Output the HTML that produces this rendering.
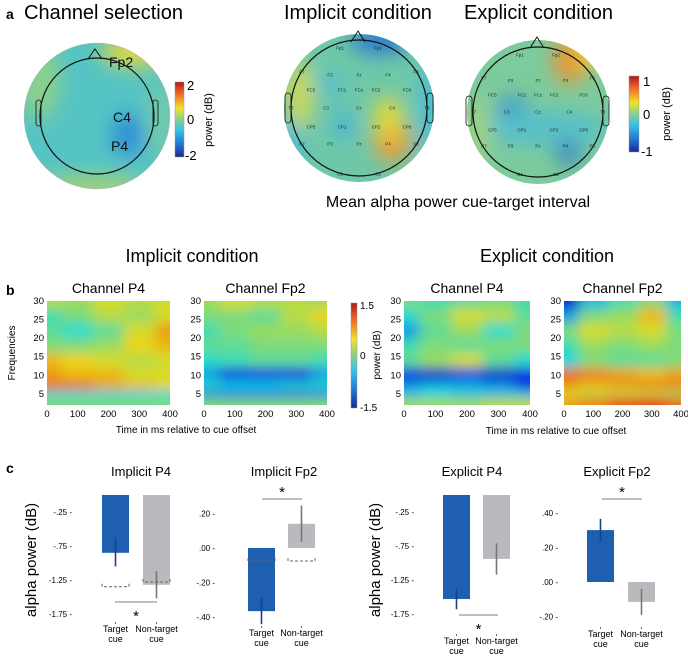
<!DOCTYPE html>
<html><head><meta charset="utf-8">
<style>
html,body{margin:0;padding:0;background:#fff;}
svg{display:block;font-family:"Liberation Sans",Arial,sans-serif;}
</style></head>
<body>
<svg id="fig" width="688" height="658" viewBox="0 0 688 658" xmlns="http://www.w3.org/2000/svg">
<defs>
  <filter id="blurH" x="-20%" y="-20%" width="140%" height="140%"><feGaussianBlur stdDeviation="6"/></filter>
  <filter id="blurT" x="-50%" y="-50%" width="200%" height="200%"><feGaussianBlur stdDeviation="10"/></filter>
  <clipPath id="cHead1"><ellipse cx="97" cy="116" rx="73" ry="73"/></clipPath>
  <clipPath id="cHead2"><ellipse cx="359" cy="108" rx="75" ry="74"/></clipPath>
  <clipPath id="cHead3"><ellipse cx="538" cy="112" rx="71" ry="72"/></clipPath>
  <linearGradient id="cb" x1="0" y1="1" x2="0" y2="0">
    <stop offset="0" stop-color="#1a2a8c"/><stop offset="0.12" stop-color="#1f5fc8"/>
    <stop offset="0.35" stop-color="#36c0e8"/><stop offset="0.5" stop-color="#86d08e"/>
    <stop offset="0.65" stop-color="#f2e22a"/><stop offset="0.85" stop-color="#f0642a"/>
    <stop offset="1" stop-color="#a81c1c"/>
  </linearGradient>
</defs>

<text x="6" y="19" font-size="14" font-weight="bold">a</text>
<text x="24" y="19" font-size="20">Channel selection</text>
<text x="284" y="19" font-size="20">Implicit condition</text>
<text x="464" y="19" font-size="20">Explicit condition</text>

<g>
  <g clip-path="url(#cHead1)">
    <rect x="20" y="40" width="160" height="160" fill="#55c4c4"/>
    <g filter="url(#blurT)">
      <ellipse cx="135" cy="52" rx="35" ry="14" fill="#e8d83a"/>
      <ellipse cx="40" cy="80" rx="20" ry="40" fill="#8cd08a"/>
      <ellipse cx="90" cy="188" rx="60" ry="12" fill="#a8d270"/>
      <ellipse cx="128" cy="135" rx="16" ry="22" fill="#2e8ed8"/>
      <ellipse cx="160" cy="120" rx="10" ry="40" fill="#7ccda0"/>
    </g>
  </g>
  <ellipse cx="97" cy="116" rx="73" ry="73" fill="none" stroke="#bbb" stroke-width="0.5"/>
  <ellipse cx="97" cy="116" rx="57" ry="58" fill="none" stroke="#111" stroke-width="1.2"/>
  <path d="M88 59 L95 49 L102 59" fill="none" stroke="#111" stroke-width="1"/>
  <rect x="36" y="100" width="5" height="26" rx="2.5" fill="none" stroke="#111" stroke-width="0.8"/>
  <rect x="153" y="100" width="5" height="26" rx="2.5" fill="none" stroke="#111" stroke-width="0.8"/>
  <text x="109" y="67" font-size="14" fill="#111">Fp2</text>
  <text x="113" y="122" font-size="14" fill="#111">C4</text>
  <text x="111" y="151" font-size="14" fill="#111">P4</text>
</g>
<g>
  <rect x="175" y="82" width="9" height="75" fill="url(#cb)" stroke="#999" stroke-width="0.5"/>
  <text x="187" y="90" font-size="13">2</text>
  <text x="187" y="124" font-size="13">0</text>
  <text x="185" y="160" font-size="13">-2</text>
  <text transform="translate(212,120) rotate(-90)" text-anchor="middle" font-size="11">power (dB)</text>
</g>

<g>
  <g clip-path="url(#cHead2)">
    <rect x="280" y="30" width="160" height="160" fill="#6ec8a8"/>
    <g filter="url(#blurT)">
      <ellipse cx="380" cy="40" rx="30" ry="14" fill="#2a78d0"/>
      <ellipse cx="300" cy="95" rx="12" ry="35" fill="#d8da50"/>
      <ellipse cx="392" cy="140" rx="18" ry="22" fill="#f09a30"/>
      <ellipse cx="388" cy="118" rx="14" ry="22" fill="#e8d83a"/>
      <ellipse cx="343" cy="125" rx="10" ry="14" fill="#40b4e0"/>
      <ellipse cx="330" cy="85" rx="14" ry="12" fill="#52bed0"/>
      <ellipse cx="430" cy="110" rx="8" ry="50" fill="#40b8e0"/>
      <ellipse cx="290" cy="150" rx="10" ry="30" fill="#40b8e0"/>
    </g>
  </g>
  <ellipse cx="359" cy="108" rx="68" ry="68" fill="none" stroke="#111" stroke-width="1.2"/>
  <path d="M351 42 L358 31 L365 42" fill="none" stroke="#111" stroke-width="1"/>
  <rect x="285" y="93" width="6" height="30" rx="3" fill="none" stroke="#111" stroke-width="0.8"/>
  <rect x="427" y="93" width="6" height="30" rx="3" fill="none" stroke="#111" stroke-width="0.8"/>
  <g id="elec2" font-size="4.5" text-anchor="middle" fill="#222"></g>
</g>

<g>
  <g clip-path="url(#cHead3)">
    <rect x="460" y="35" width="160" height="160" fill="#7ccb9c"/>
    <g filter="url(#blurT)">
      <ellipse cx="570" cy="60" rx="16" ry="24" fill="#f09030"/>
      <ellipse cx="590" cy="55" rx="16" ry="14" fill="#e8c838"/>
      <ellipse cx="512" cy="110" rx="16" ry="12" fill="#2a8ad8"/>
      <ellipse cx="568" cy="150" rx="12" ry="14" fill="#2a6ccc"/>
      <ellipse cx="540" cy="128" rx="70" ry="18" fill="#58c0c8"/>
      <ellipse cx="480" cy="130" rx="10" ry="30" fill="#a8d478"/>
    </g>
  </g>
  <ellipse cx="538" cy="112" rx="65" ry="65" fill="none" stroke="#111" stroke-width="1.2"/>
  <path d="M530 48 L537 37 L544 48" fill="none" stroke="#111" stroke-width="1"/>
  <rect x="466" y="96" width="6" height="30" rx="3" fill="none" stroke="#111" stroke-width="0.8"/>
  <rect x="603" y="96" width="6" height="30" rx="3" fill="none" stroke="#111" stroke-width="0.8"/>
  <g id="elec3" font-size="4.5" text-anchor="middle" fill="#222"></g>
</g>
<g>
  <rect x="629" y="76" width="10" height="76" fill="url(#cb)" stroke="#999" stroke-width="0.5"/>
  <text x="643" y="86" font-size="13">1</text>
  <text x="643" y="119" font-size="13">0</text>
  <text x="641" y="156" font-size="13">-1</text>
  <text transform="translate(670,114) rotate(-90)" text-anchor="middle" font-size="11">power (dB)</text>
</g>
<text x="458" y="207" font-size="16" text-anchor="middle">Mean alpha power cue-target interval</text>

<text x="192" y="262" font-size="18" text-anchor="middle">Implicit condition</text>
<text x="547" y="262" font-size="18" text-anchor="middle">Explicit condition</text>
<text x="6" y="295" font-size="14" font-weight="bold">b</text>
<g id="tf"></g>
<g>
  <rect x="351" y="303" width="6" height="105" fill="url(#cb)" stroke="#999" stroke-width="0.5"/>
  <text x="360" y="309" font-size="10">1.5</text>
  <text x="360" y="359" font-size="10">0</text>
  <text x="360" y="411" font-size="10">-1.5</text>
  <text transform="translate(380,355) rotate(-90)" text-anchor="middle" font-size="10">power (dB)</text>
</g>
<text transform="translate(15,353) rotate(-90)" text-anchor="middle" font-size="10">Frequencies</text>
<text x="186" y="433" font-size="10" text-anchor="middle">Time in ms relative to cue offset</text>
<text x="556" y="434" font-size="10" text-anchor="middle">Time in ms relative to cue offset</text>

<text x="6" y="473" font-size="14" font-weight="bold">c</text>
<text transform="translate(36,560) rotate(-90)" text-anchor="middle" font-size="15">alpha power (dB)</text>
<text transform="translate(380,560) rotate(-90)" text-anchor="middle" font-size="15">alpha power (dB)</text>
<g id="bars"></g>
</svg>

<script>
var tfTimes = [0, 100, 200, 300, 400];
var tfFreqs = [30, 26, 22, 18, 14, 10, 7, 5, 3];
var tfImplicitP4 = [
 [0.2,0.1,0.3,0.2,0.3],[-0.2,0,0.2,0.1,0.3],[-0.1,-0.3,-0.1,0.3,0.6],[0,0,0.1,0.4,0.5],
 [0.5,0.4,0.3,0.2,0.3],[0.6,0.5,0.5,0.3,0.3],[0.8,0.8,0.6,0.5,0.4],[-0.4,-0.4,-0.4,-0.4,-0.4],[0,0,0,0,0]];
var tfImplicitFp2 = [
 [0.1,0.3,0.2,0.2,0.1],[0,0,-0.1,0.2,0.4],[-0.2,0,0.1,0.1,0.2],[-0.1,-0.1,0,0,0],
 [-0.3,-0.2,-0.1,-0.1,-0.2],[-0.6,-1.0,-1.0,-1.0,-0.6],[-0.3,-0.4,-0.4,-0.3,-0.3],[-0.8,-0.9,-0.9,-0.9,-0.8],[0,0,0,0,0]];
var tfExplicitP4 = [
 [0,-0.2,-0.1,0,-0.2],[-0.3,0,0.3,0.2,-0.1],[-0.6,-0.1,0.1,-0.3,0],[-0.2,0,-0.1,0,0],
 [-0.1,0.1,0.3,-0.1,-0.3],[-1.1,-1.2,-1.0,-1.2,-1.1],[-0.6,-0.5,-0.5,-0.6,-0.9],[-0.5,-0.4,-0.5,-0.5,-0.5],[0.1,0.1,0.1,0.2,0.2]];
var tfExplicitFp2 = [
 [-1.2,-0.5,-0.2,0,-0.5],[-0.6,0,0.1,0.5,-0.2],[0,0.3,0.2,0.3,0],[-0.2,0.1,0,0.1,0],
 [-0.4,0,-0.1,-0.1,0],[0.8,0.7,0.6,0.5,0.6],[0.6,0.5,0.6,0.7,0.7],[0.3,0.2,0.2,0.2,0.1],[0.6,0.7,0.9,1.0,0.8]];
var tfXTicks = [0, 100, 200, 300, 400];
var tfYTicks = [5, 10, 15, 20, 25, 30];

var barCategories = ["Target cue", "Non-target cue"];
var implicitP4Values = [-0.85, -1.32];
var implicitP4Err = [0.2, 0.2];
var implicitP4Dashed = [-1.35, -1.28];
var implicitFp2Values = [-0.365, 0.14];
var implicitFp2Err = [0.075, 0.105];
var implicitFp2Dashed = [-0.075, -0.075];
var explicitP4Values = [-1.53, -0.94];
var explicitP4Err = [0.15, 0.23];
var explicitFp2Values = [0.30, -0.115];
var explicitFp2Err = [0.065, 0.075];
var p4Ticks = [-0.25, -0.75, -1.25, -1.75];
var p4TickLabels = ["-.25", "-.75", "-1.25", "-1.75"];
var fp2ImplicitTicks = [0.2, 0, -0.2, -0.4];
var fp2ImplicitTickLabels = [".20", ".00", "-.20", "-.40"];
var fp2ExplicitTicks = [0.4, 0.2, 0, -0.2];
var fp2ExplicitTickLabels = [".40", ".20", ".00", "-.20"];

var NS = "http://www.w3.org/2000/svg";
function mk(tag, attrs, parent){ var e=document.createElementNS(NS,tag); for(var k in attrs) e.setAttribute(k,attrs[k]); if(parent) parent.appendChild(e); return e; }
function clamp(v){ return Math.max(0, Math.min(1, v)); }
function jet(v, range){
  var t = clamp((v + range) / (2*range));
  var r = clamp(1.5 - Math.abs(4*t-3)), g = clamp(1.5 - Math.abs(4*t-2)), b = clamp(1.5 - Math.abs(4*t-1));
  r = r*0.86+0.06; g = g*0.80+0.06; b = b*0.80+0.08;
  return "rgb(" + Math.round(r*255) + "," + Math.round(g*255) + "," + Math.round(b*255) + ")";
}

var elecNames = ["Fp1","Fp2","F3","Fz","F4","FC5","FC1","FCz","FC2","FC6","T7","C3","Cz","C4","T8","CP5","CP1","CP2","CP6","P3","Pz","P4","O1","O2","F7","F8","P7","P8"];
var elecDx = [-19,19,-29,0,29,-48,-17,0,17,48,-68,-33,0,33,68,-48,-17,17,48,-29,0,29,-19,19,-57,57,-57,57];
var elecDy = [-60,-60,-33,-33,-33,-18,-18,-18,-18,-18,0,0,0,0,0,19,19,19,19,36,36,36,66,66,-36,-36,36,36];
[["elec2",359,108,1],["elec3",538,112,0.95]].forEach(function(h){
  var g = document.getElementById(h[0]);
  for (var i=0;i<elecNames.length;i++){
    var t = mk("text",{x:h[1]+elecDx[i]*h[3], y:h[2]+elecDy[i]*h[3]+1.5}, g);
    t.textContent = elecNames[i];
  }
});

var tfPanels = [
  {x0:47, x1:170, title:"Channel P4", data:tfImplicitP4, name:"tf-implicit-p4"},
  {x0:204, x1:327, title:"Channel Fp2", data:tfImplicitFp2, name:"tf-implicit-fp2"},
  {x0:404, x1:530, title:"Channel P4", data:tfExplicitP4, name:"tf-explicit-p4"},
  {x0:564, x1:681, title:"Channel Fp2", data:tfExplicitFp2, name:"tf-explicit-fp2"}
];
var tfTop = 301, tfBot = 405, fMin = 2, fMax = 30;
var tfRoot = document.getElementById("tf");
tfPanels.forEach(function(p, pi){
  var g = mk("g", {}, tfRoot);
  
  
  function xs(t){ return p.x0 + t/400*(p.x1-p.x0); }
  function ys(f){ return tfBot - (f - fMin)/(fMax-fMin)*(tfBot-tfTop); }
  var cid = "clipTF"+pi;
  var defs = mk("defs", {}, g);
  var cp = mk("clipPath", {id:cid}, defs);
  mk("rect", {x:p.x0, y:tfTop, width:p.x1-p.x0, height:tfBot-tfTop}, cp);
  var cg = mk("g", {"clip-path":"url(#"+cid+")"}, g);
  var bg = mk("g", {filter:"url(#blurH)"}, cg);
  var dx = (p.x1-p.x0)/(tfTimes.length-1);
  for (var r=0;r<tfFreqs.length;r++){
    var yTop = r===0 ? tfTop-20 : (ys(tfFreqs[r-1])+ys(tfFreqs[r]))/2;
    var yBot = r===tfFreqs.length-1 ? tfBot+20 : (ys(tfFreqs[r])+ys(tfFreqs[r+1]))/2;
    for (var c=0;c<tfTimes.length;c++){
      var cx = xs(tfTimes[c]);
      var xl = c===0 ? cx-20 : cx-dx/2, xr = c===tfTimes.length-1 ? cx+20 : cx+dx/2;
      var cell = mk("rect", {x:xl, y:yTop, width:xr-xl+0.5, height:yBot-yTop+0.5, fill:jet(p.data[r][c],1.5)}, bg);
      
      
    }
  }
  var tt = mk("text", {x:(p.x0+p.x1)/2, y:293, "font-size":14, "text-anchor":"middle"}, g);
  tt.textContent = p.title;
  tfXTicks.forEach(function(t){
    var l = mk("text", {x:xs(t), y:417, "font-size":9.5, "text-anchor":"middle"}, g);
    l.textContent = t;
  });
  tfYTicks.forEach(function(f){
    var l = mk("text", {x:p.x0-3, y:ys(f)+3, "font-size":9.5, "text-anchor":"end"}, g);
    l.textContent = f;
  });
});

var barRoot = document.getElementById("bars");
function barPanel(o){
  var g = mk("g", {}, barRoot);
  
  
  function ys(v){ return o.zeroY - v*o.ppu; }
  var t = mk("text", {x:o.titleX, y:476, "font-size":13, "text-anchor":"middle"}, g);
  t.textContent = o.title;
  o.ticks.forEach(function(v,i){
    var l = mk("text", {x:o.tickX, y:ys(v)+3, "font-size":8, "text-anchor":"end"}, g);
    l.textContent = o.tickLabels[i] + " -";
  });
  var base = ys(o.baseVal);
  for (var i=0;i<o.values.length;i++){
    var x = o.barX[i], w = 27, yv = ys(o.values[i]);
    var b = mk("rect", {x:x, y:Math.min(base,yv), width:w, height:Math.abs(base-yv), fill: i===0?"#1e5fb0":"#b9babd"}, g);
    
    
    var e = mk("line", {x1:x+w/2, x2:x+w/2, y1:ys(o.values[i]+o.err[i]), y2:ys(o.values[i]-o.err[i]), stroke: i===0?"#1a3f8c":"#777", "stroke-width":1.6}, g);
    
    
    if (o.dashed){
      var yd = ys(o.dashed[i]);
      mk("path", {d:"M"+x+" "+(yd-3)+" V"+yd+" H"+(x+w)+" V"+(yd-3), fill:"none", stroke:"#666", "stroke-width":1, "stroke-dasharray":"3,2"}, g);
    }
    var cx = x + w/2;
    mk("line", {x1:cx, x2:cx, y1:o.labY-10, y2:o.labY-8, stroke:"#444", "stroke-width":0.8}, g);
    var words = barCategories[i].split(" ");
    var l1 = mk("text", {x:cx, y:o.labY, "font-size":9, "text-anchor":"middle"}, g); l1.textContent = words[0];
    var l2 = mk("text", {x:cx, y:o.labY+10, "font-size":9, "text-anchor":"middle"}, g); l2.textContent = words[1];
  }
  mk("line", {x1:o.sig[0], x2:o.sig[1], y1:o.sig[2], y2:o.sig[2], stroke:"#555", "stroke-width":0.8}, g);
  var s = mk("text", {x:(o.sig[0]+o.sig[1])/2, y:o.sig[3], "font-size":15, "text-anchor":"middle"}, g);
  s.textContent = "*";
}
barPanel({name:"bar-chart-implicit-p4", title:"Implicit P4", titleX:141, zeroY:495, ppu:68, baseVal:0, ticks:p4Ticks, tickLabels:p4TickLabels, tickX:72,
  values:implicitP4Values, err:implicitP4Err, dashed:implicitP4Dashed, barX:[102,143], sig:[115,157,602,621], labY:632});
barPanel({name:"bar-chart-implicit-fp2", title:"Implicit Fp2", titleX:284, zeroY:548, ppu:173, baseVal:0, ticks:fp2ImplicitTicks, tickLabels:fp2ImplicitTickLabels, tickX:215,
  values:implicitFp2Values, err:implicitFp2Err, dashed:implicitFp2Dashed, barX:[248,288], sig:[262,302,499,497], labY:636});
barPanel({name:"bar-chart-explicit-p4", title:"Explicit P4", titleX:472, zeroY:495, ppu:68, baseVal:0, ticks:p4Ticks, tickLabels:p4TickLabels, tickX:414,
  values:explicitP4Values, err:explicitP4Err, dashed:null, barX:[443,483], sig:[459,498,615,634], labY:644});
barPanel({name:"bar-chart-explicit-fp2", title:"Explicit Fp2", titleX:617, zeroY:582, ppu:173, baseVal:0, ticks:fp2ExplicitTicks, tickLabels:fp2ExplicitTickLabels, tickX:558,
  values:explicitFp2Values, err:explicitFp2Err, dashed:null, barX:[587,628], sig:[602,642,499,497], labY:637});
</script>
</body></html>
